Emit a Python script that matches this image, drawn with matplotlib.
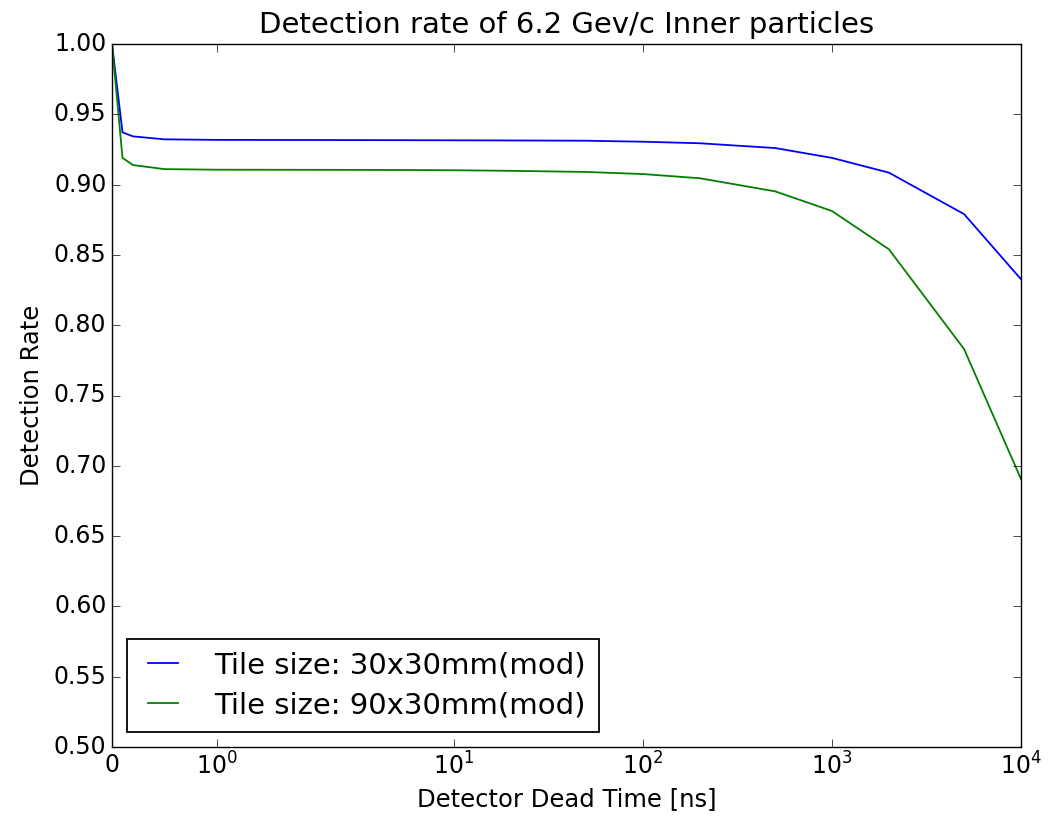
import matplotlib
matplotlib.use("Agg")
import matplotlib.pyplot as plt
from matplotlib.ticker import NullLocator, FixedLocator, FormatStrFormatter

plt.style.use('classic')

dead_time = [0, 0.1, 0.2, 0.5, 1, 2, 5, 10, 20, 50, 100, 200, 500, 1000, 2000, 5000, 10000]
rate_30x30 = [1.0, 0.9372, 0.9343, 0.9322, 0.9318, 0.9317, 0.9316, 0.9315, 0.9314, 0.9312,
              0.9305, 0.9294, 0.926, 0.919, 0.9085, 0.879, 0.8327]
rate_90x30 = [1.0, 0.919, 0.9139, 0.911, 0.9106, 0.9105, 0.9104, 0.9102, 0.9098, 0.909,
              0.9075, 0.9045, 0.8952, 0.8812, 0.854, 0.783, 0.6906]
labels = ["Tile size: 30x30mm(mod)", "Tile size: 90x30mm(mod)"]
title = "Detection rate of 6.2 Gev/c Inner particles"
xlabel = "Detector Dead Time [ns]"
ylabel = "Detection Rate"
xticks = [0, 1, 10, 100, 1000, 10000]
yticks = [0.50, 0.55, 0.60, 0.65, 0.70, 0.75, 0.80, 0.85, 0.90, 0.95, 1.00]

fig = plt.figure(figsize=(10.55, 8.17), dpi=100, facecolor='white')
ax = fig.add_axes([112/1055, 1 - 747/817, (1021 - 112)/1055, (747 - 44)/817])

ax.plot(dead_time, rate_30x30, color='b', lw=1.3, label=labels[0])
ax.plot(dead_time, rate_90x30, color='g', lw=1.3, label=labels[1])

ax.set_xscale('symlog', linthresh=2, linscale=1)
ax.set_xlim(0, 10000)
ax.set_ylim(0.5, 1.0)
ax.xaxis.set_major_locator(FixedLocator(xticks))
ax.xaxis.set_minor_locator(NullLocator())
ax.set_yticks(yticks)
ax.yaxis.set_major_formatter(FormatStrFormatter('%.2f'))

ax.tick_params(labelsize=17, length=6)
ax.set_title(title, fontsize=21, pad=8)
ax.set_xlabel(xlabel, fontsize=17.5, labelpad=5)
ax.set_ylabel(ylabel, fontsize=17.5, labelpad=7)

leg = ax.legend(loc='lower left', fontsize=21, handlelength=1.6, handletextpad=0.95,
                borderaxespad=0.5, labelspacing=0.4, borderpad=0.45)
leg.get_frame().set_linewidth(1.3)

fig.savefig('out.png', dpi=100, facecolor='white')
